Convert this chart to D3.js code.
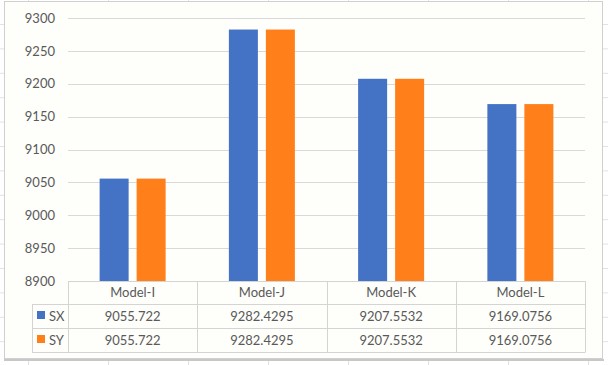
<!DOCTYPE html>
<html><head><meta charset="utf-8">
<script src="https://cdn.jsdelivr.net/npm/d3@7"></script>
<style>html,body{margin:0;padding:0;background:#fff;}svg{display:block;}</style>
</head><body>
<svg id="c" width="608" height="365"></svg>
<script>
const categories = ["Model-I", "Model-J", "Model-K", "Model-L"];
const seriesNames = ["SX", "SY"];
const sxValues = [9055.722, 9282.4295, 9207.5532, 9169.0756];
const syValues = [9055.722, 9282.4295, 9207.5532, 9169.0756];
const sxLabels = ["9055.722", "9282.4295", "9207.5532", "9169.0756"];
const syLabels = ["9055.722", "9282.4295", "9207.5532", "9169.0756"];
const yTicks = [8900, 8950, 9000, 9050, 9100, 9150, 9200, 9250, 9300];
const colors = ["#4472C4", "#FF7F1A"];

(function () {
const svg = d3.select("#c");
const W = 608, H = 365;
const font = "Lato, 'Open Sans', sans-serif";
const textColor = "#595959";
const grid = "#d9d9d9";

// spreadsheet background gridlines
const bg = svg.append("g");
bg.append("rect").attr("width", W).attr("height", H).attr("fill", "#ffffff");
for (let yy = 24.5; yy < H; yy += 24.4) {
  bg.append("line").attr("x1", 0).attr("x2", W).attr("y1", yy).attr("y2", yy).attr("stroke", "#e2e2e2");
}
for (let xx = 28.5; xx < W; xx += 80) {
  bg.append("line").attr("x1", xx).attr("x2", xx).attr("y1", 0).attr("y2", H).attr("stroke", "#e2e2e2");
}

// chart area
svg.append("rect").attr("x", 4.5).attr("y", 1.5).attr("width", 598).attr("height", 357)
  .attr("fill", "#fefefb").attr("stroke", "#d0d0d0");
svg.append("line").attr("x1", 4).attr("x2", 604).attr("y1", 360).attr("y2", 360).attr("stroke", "#c8c8c8").attr("stroke-width", 2);

const pl = 68, pr = 585, pt = 18, pb = 281;
const x = d3.scaleBand().domain(categories).range([pl, pr]);
const y = d3.scaleLinear().domain([8900, 9300]).range([pb, pt]);

// gridlines
svg.append("g").selectAll("line").data(yTicks).join("line")
  .attr("x1", pl).attr("x2", pr)
  .attr("y1", d => Math.round(y(d)) + 0.5).attr("y2", d => Math.round(y(d)) + 0.5)
  .attr("stroke", grid);

// y axis labels
const yAxis = d3.axisLeft(y).tickValues(yTicks).tickSize(0).tickPadding(13).tickFormat(d3.format("d"));
const ya = svg.append("g").attr("transform", `translate(${pl},0)`).call(yAxis);
ya.select(".domain").remove();
ya.selectAll("text").attr("font-family", font).attr("font-size", 13).attr("fill", textColor);

// bars
const barW = 29, gap = 8;
const series = [sxValues, syValues];
series.forEach((vals, si) => {
  svg.append("g").selectAll("rect").data(vals).join("rect")
    .attr("x", (d, i) => x(categories[i]) + x.bandwidth() / 2 - (barW + gap / 2) + si * (barW + gap))
    .attr("width", barW)
    .attr("y", d => y(d))
    .attr("height", d => pb - y(d))
    .attr("fill", colors[si]);
});

// data table
const rowTop = [281, 304, 328, 352];
const t = svg.append("g");
const lc = "#d4d4d4";
t.append("line").attr("x1", pl).attr("x2", pr).attr("y1", 281.5).attr("y2", 281.5).attr("stroke", lc);
[304, 328, 352].forEach(v => {
  t.append("line").attr("x1", 32).attr("x2", pr).attr("y1", v + 0.5).attr("y2", v + 0.5).attr("stroke", lc);
});
t.append("line").attr("x1", 32.5).attr("x2", 32.5).attr("y1", 304).attr("y2", 352.5).attr("stroke", lc);
const colEdges = categories.map(c => x(c)).concat([pr]);
colEdges.forEach(v => {
  t.append("line").attr("x1", Math.round(v) + 0.5).attr("x2", Math.round(v) + 0.5).attr("y1", 281).attr("y2", 352.5).attr("stroke", lc);
});
t.append("g").selectAll("text").data(categories).join("text")
  .attr("x", d => x(d) + x.bandwidth() / 2).attr("y", 297)
  .attr("text-anchor", "middle").attr("font-family", font).attr("font-size", 13).attr("fill", textColor)
  .text(d => d);
const labelRows = [sxLabels, syLabels];
labelRows.forEach((labs, ri) => {
  const cy = (rowTop[ri + 1] + rowTop[ri + 2]) / 2 + 4.5;
  t.append("g").selectAll("text").data(labs).join("text")
    .attr("x", (d, i) => x(categories[i]) + x.bandwidth() / 2).attr("y", cy)
    .attr("text-anchor", "middle").attr("font-family", font).attr("font-size", 13).attr("fill", textColor)
    .text(d => d);
  t.append("rect").attr("x", 37).attr("y", cy - 9.5).attr("width", 8).attr("height", 8).attr("fill", colors[ri]);
  t.append("text").attr("x", 49).attr("y", cy).attr("font-family", font).attr("font-size", 13)
    .attr("fill", textColor).text(seriesNames[ri]);
});
})();
</script>
</body></html>
